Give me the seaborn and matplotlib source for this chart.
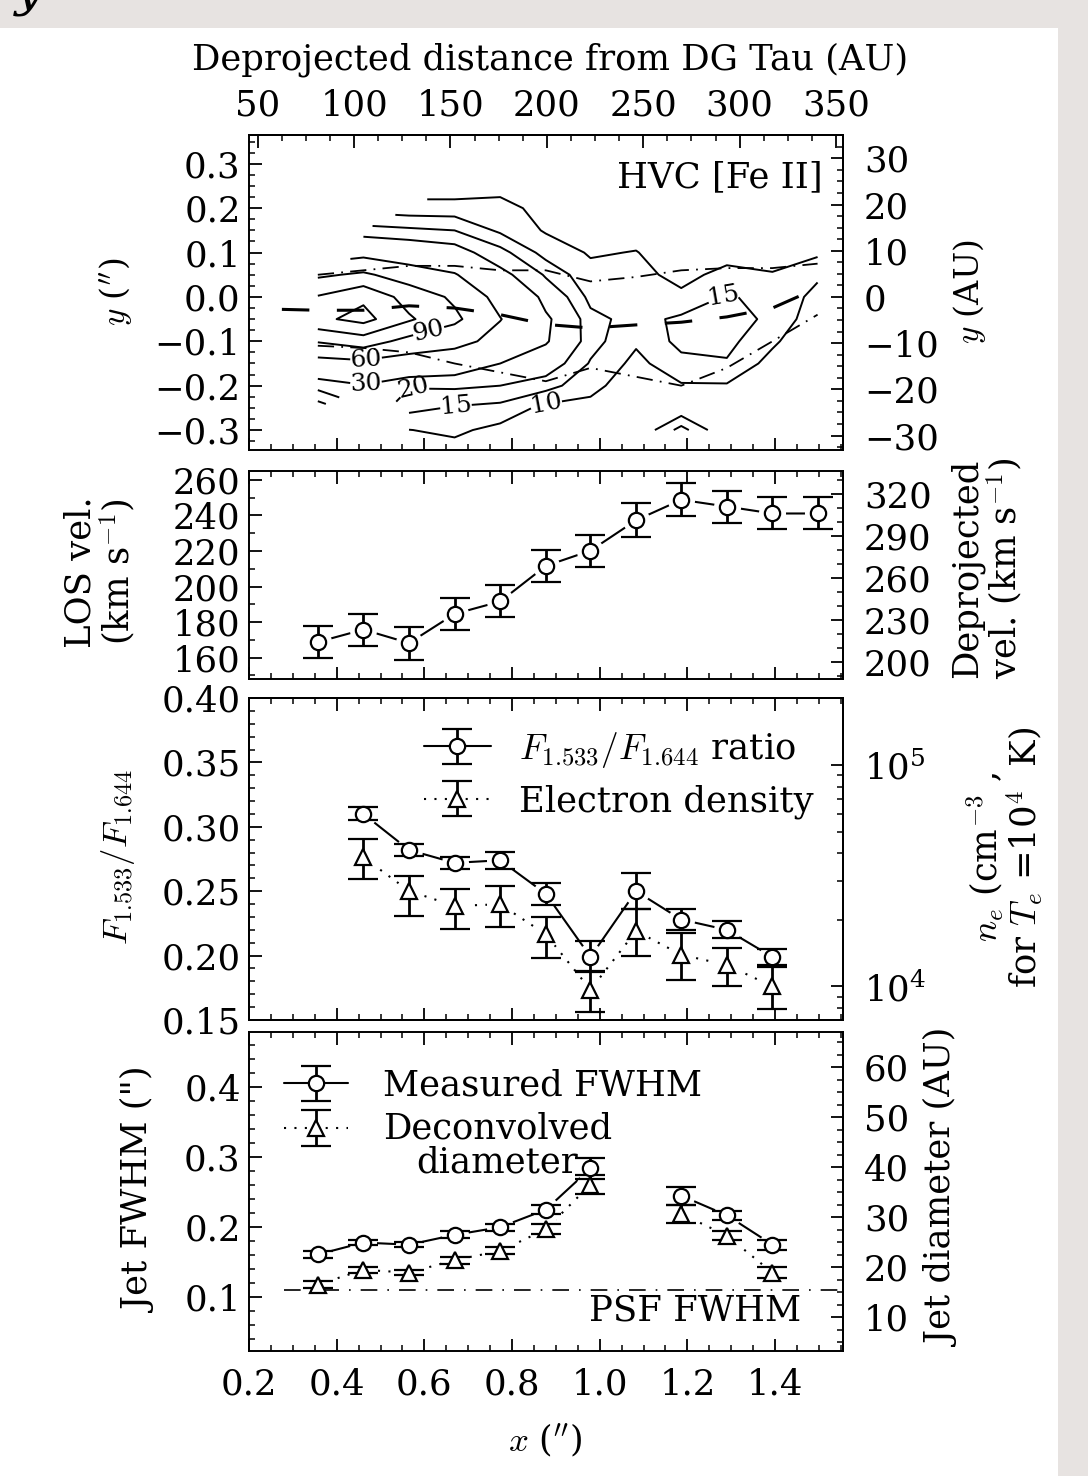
import numpy as np
import matplotlib.pyplot as plt
import matplotlib.ticker as mticker
from matplotlib.patches import Rectangle
from matplotlib.legend_handler import HandlerErrorbar
import seaborn as sns

sns.set_style("ticks")
plt.rcParams['font.family'] = ['DejaVu Serif']
plt.rcParams['mathtext.fontset'] = 'cm'
plt.rcParams['font.size'] = 25.5
plt.rcParams['axes.linewidth'] = 1.4
for key in ['text.color', 'axes.labelcolor', 'xtick.color', 'ytick.color', 'axes.edgecolor']:
    plt.rcParams[key] = 'black'

W, H = 1088, 1476
nan = np.nan

# ---------------- data ----------------
# slit positions along the jet (arcsec)
x_cols = [0.357, 0.461, 0.565, 0.669, 0.773, 0.877, 0.979, 1.083, 1.186, 1.290, 1.394, 1.497]
y_rows = [-0.35, -0.30, -0.25, -0.20, -0.15, -0.10, -0.05, 0.00, 0.05, 0.10, 0.15, 0.20, 0.25, 0.30, 0.35]

# HVC [Fe II] flux (rows = y_rows, cols = x_cols), masked outside the field
flux = [
    [nan, nan, nan, 8, 6, 5, 4.5, nan, nan, nan, 3, 1.5],
    [nan, nan, 9.9, 11, 8.5, 6, 6, 5, 17, 5, 3.5, 2],
    [12, nan, 16.5, 14.5, 13.5, 8.5, 8.5, 6, 6, 6, 4.5, 2.5],
    [22, 29, 20.5, 21, 20, 17, 11.5, 7, 9.5, 9.5, 6, 3],
    [48, 52, 45, 40, 30, 24, 14.5, 8.5, 13.5, 14.5, 8, 4],
    [92, 105, 80, 70, 50, 31, 17, 10.8, 16.5, 16.5, 11, 5],
    [143, 160, 124, 96, 61, 32, 16.5, 13.2, 16, 17, 14, 6.5],
    [122, 144, 108, 85, 50, 26, 13.5, 12.5, 11, 15.5, 13.5, 8.5],
    [85, 95, 75, 62, 34, 19, 11.5, 11.5, 8.5, 11.5, 10.3, 10.8],
    [nan, 50, 42, 36, 22, 13, 9.5, 10.2, 7, 8, 8, 9.8],
    [nan, 22, 21, 20, 14, 9.5, 8.5, 8, 5.5, 5.5, 5.5, 7.5],
    [nan, nan, 12, 12, 11.5, 8.5, 7, 6.5, 4, 4, 4, 5],
    [nan, nan, nan, 7, 8.5, 7, 5.5, 5, 3, 3, 3, 3],
    [nan, nan, nan, 5.5, 6, 5, 4, 4, 2.5, 2.5, 2.5, 2],
    [nan, nan, nan, 4, 4, 3.5, 3, 3, 2, 2, 2, 1.5],
]
contour_levels = [10, 15, 20, 30, 60, 90, 120, 150]
labelled_levels = [10, 15, 20, 30, 60, 90]
label_pos = [(0.61, -0.078), (0.467, -0.141), (0.467, -0.198), (0.575, -0.205),
             (0.672, -0.245), (0.878, -0.24), (1.28, 0.008)]

# jet centroid and FWHM edges
centroid_x = [0.275, 0.357, 0.461, 0.565, 0.669, 0.773, 0.877, 0.979, 1.083, 1.186, 1.290, 1.394, 1.497]
centroid_y = [-0.028, -0.03, -0.03, -0.02, -0.025, -0.04, -0.062, -0.07, -0.063, -0.057, -0.045, -0.025, 0.02]
edge_upper = [0.05, 0.06, 0.07, 0.07, 0.06, 0.06, 0.035, 0.045, 0.06, 0.065, 0.065, 0.075]
edge_lower = [-0.11, -0.115, -0.125, -0.15, -0.17, -0.19, -0.16, -0.18, -0.2, -0.16, -0.1, -0.04]

# line-of-sight velocity (km/s)
los_vel = [168.8, 175.8, 168.2, 184.6, 191.6, 211.6, 220.2, 237.3, 248.8, 245.0, 241.1, 241.1]
los_err = [9.1, 9.0, 9.3, 9.0, 9.0, 9.2, 9.0, 9.5, 9.2, 9.0, 9.0, 9.0]

# [Fe II] 1.533/1.644 ratio and electron density
ratio_x = [0.461, 0.565, 0.669, 0.773, 0.877, 0.979, 1.083, 1.186, 1.290, 1.394]
ratio = [0.310, 0.282, 0.272, 0.274, 0.248, 0.199, 0.250, 0.228, 0.220, 0.199]
ratio_err = [0.005, 0.005, 0.0045, 0.0065, 0.0085, 0.012, 0.014, 0.0085, 0.0065, 0.0065]
n_e = [3.83e4, 2.70e4, 2.31e4, 2.35e4, 1.72e4, 9.66e3, 1.78e4, 1.39e4, 1.25e4, 1.00e4]
n_e_lo = [3.05e4, 2.08e4, 1.82e4, 1.86e4, 1.35e4, 7.7e3, 1.37e4, 1.07e4, 1.00e4, 7.9e3]
n_e_hi = [4.64e4, 3.16e4, 2.75e4, 2.85e4, 2.05e4, 1.17e4, 2.23e4, 1.75e4, 1.49e4, 1.23e4]

# jet width (arcsec)
width_x = [0.357, 0.461, 0.565, 0.669, 0.773, 0.877, 0.979, 1.083, 1.186, 1.290, 1.394]
fwhm = [0.161, 0.178, 0.175, 0.189, 0.200, 0.225, 0.284, nan, 0.245, 0.217, 0.175]
fwhm_err = [0.005, 0.004, 0.004, 0.005, 0.005, 0.006, 0.015, nan, 0.013, 0.0066, 0.007]
diam = [0.118, 0.139, 0.135, 0.153, 0.166, 0.197, 0.261, nan, 0.219, 0.188, 0.135]
diam_err = [0.005, 0.004, 0.004, 0.005, 0.005, 0.007, 0.014, nan, 0.013, 0.006, 0.008]
psf_x = [0.28, 1.555]
psf_fwhm = 0.1105

# tick values of the converted axes
au_dist_ticks = [50, 100, 150, 200, 250, 300, 350]
au_y_ticks = [-30, -20, -10, 0, 10, 20, 30]
vel_deproj_ticks = [200, 230, 260, 290, 320]
au_width_ticks = [10, 20, 30, 40, 50, 60]

# unit conversions (d = 140 pc, i = 38 deg)
AU_DEPROJ = 140 / np.sin(np.radians(38))
AU_Y = 96.0
AU_W = 140.0
VEL_DEPROJ = 1 / np.cos(np.radians(38))

# ---------------- helpers ----------------
LEFT, RIGHT = 249, 843


def panel(top, bottom):
    return fig.add_axes([LEFT / W, 1 - bottom / H, (RIGHT - LEFT) / W, (bottom - top) / H])


def set_ticks(ax, **kw):
    ax.tick_params(which='major', direction='in', length=9, width=1.3, **kw)
    ax.tick_params(which='minor', direction='in', length=4.5, width=1.1, **kw)


def style_x(ax, top=True, labels=False):
    ax.set_xlim(0.2, 1.555)
    ax.xaxis.set_major_locator(mticker.MultipleLocator(0.2))
    ax.xaxis.set_minor_locator(mticker.MultipleLocator(0.05))
    set_ticks(ax, axis='x', top=top, bottom=True, labelbottom=labels, pad=12)


def style_y(ax, major, minor):
    ax.yaxis.set_major_locator(mticker.MultipleLocator(major))
    ax.yaxis.set_minor_locator(mticker.MultipleLocator(minor))
    set_ticks(ax, axis='y', left=True, right=False, pad=6)


def secondary_y(ax, factor, ticks, minor):
    s = ax.secondary_yaxis('right', functions=(lambda v: v * factor, lambda v: v / factor))
    s.yaxis.set_major_locator(mticker.FixedLocator(ticks))
    s.yaxis.set_minor_locator(mticker.MultipleLocator(minor))
    set_ticks(s, axis='y', pad=15)
    return s


def connect(ax, x, y, ls):
    # connecting line, broken where data are missing
    x = np.asarray(x, float)
    y = np.asarray(y, float)
    ok = np.isfinite(y)
    for r in np.split(np.arange(len(y)), np.where(~ok)[0]):
        r = r[ok[r]]
        if len(r) > 1:
            sns.lineplot(x=x[r], y=y[r], ax=ax, color='k', lw=1.5, linestyle=ls,
                         zorder=1, legend=False)


EB = dict(ms=11, mfc='white', mec='k', mew=1.6, ecolor='k', elinewidth=2.0,
          capsize=11, capthick=2.0)


def series(ax, x, y, yerr, marker, ls):
    connect(ax, x, y, ls)
    ax.scatter(x, y, s=380, color='white', zorder=2, linewidths=0)
    ax.errorbar(x, y, yerr=yerr, fmt=marker, zorder=3, **EB)


def proxy(ax, marker, ls):
    c = ax.errorbar([nan], [nan], yerr=[0.01], fmt=marker, color='k', **EB)
    c.lines[0].set_linestyle(ls)
    c.lines[0].set_linewidth(1.5)
    return c


class RaisedHandler(HandlerErrorbar):
    # put the handle next to the first line of a two-line label
    def adjust_drawing_area(self, legend, orig_handle, xdescent, ydescent, width, height, fontsize):
        xd, yd, w, h = super().adjust_drawing_area(legend, orig_handle, xdescent, ydescent,
                                                   width, height, fontsize)
        return xd, yd - 1.05 * fontsize, w, h


fig = plt.figure(figsize=(W / 100, H / 100), dpi=100)
fig.patch.set_facecolor('#e7e3e1')
fig.add_artist(Rectangle((0, 0), 1058 / W, (H - 28) / H, transform=fig.transFigure,
                         facecolor='white', edgecolor='none', zorder=-5))
fig.text(15 / W, 1 - 5 / H, 'y', fontsize=36, style='italic', ha='left', va='baseline')

# ---------------- panel 1: contours ----------------
ax1 = panel(135, 450)
cs = ax1.contour(x_cols, y_rows, np.ma.masked_invalid(flux), levels=contour_levels,
                 colors='k', linewidths=1.4, linestyles='solid')
ax1.clabel(cs, levels=labelled_levels, fmt='%d', fontsize=18, inline=True,
           inline_spacing=3, manual=label_pos)
sns.lineplot(x=centroid_x, y=centroid_y, ax=ax1, color='k', lw=2.2,
             linestyle=(0, (9, 9)), legend=False)
sns.lineplot(x=x_cols, y=edge_upper, ax=ax1, color='k', lw=1.3,
             linestyle=(0, (9, 4, 1, 4)), legend=False)
sns.lineplot(x=x_cols, y=edge_lower, ax=ax1, color='k', lw=1.3,
             linestyle=(0, (9, 4, 1, 4)), legend=False)
ax1.set_ylim(-0.345, 0.365)
style_x(ax1, top=False)
style_y(ax1, 0.1, 0.025)
ax1.text(0.965, 0.865, 'HVC [Fe II]', transform=ax1.transAxes, ha='right', va='center')
secondary_y(ax1, AU_Y, au_y_ticks, 2.5)
top = ax1.secondary_xaxis('top', functions=(lambda v: v * AU_DEPROJ, lambda v: v / AU_DEPROJ))
top.xaxis.set_major_locator(mticker.FixedLocator(au_dist_ticks))
top.xaxis.set_minor_locator(mticker.MultipleLocator(12.5))
set_ticks(top, axis='x', pad=9)
fig.text(550 / W, 1 - 60 / H, 'Deprojected distance from DG Tau (AU)', ha='center', va='center')
fig.text(116 / W, 1 - 292 / H, "$y$ ($''$)", rotation=90, ha='center', va='center', fontsize=24)
fig.text(970 / W, 1 - 292 / H, '$y$ (AU)', rotation=90, ha='center', va='center', fontsize=24)

# ---------------- panel 2: velocity ----------------
ax2 = panel(471, 679)
series(ax2, x_cols, los_vel, los_err, 'o', '-')
ax2.set_ylim(148, 265)
style_x(ax2)
style_y(ax2, 20, 10)
secondary_y(ax2, VEL_DEPROJ, vel_deproj_ticks, 10)
fig.text(100 / W, 1 - 572 / H, 'LOS vel.\n(km s$^{-1}$)', rotation=90, ha='center',
         va='center', multialignment='center', linespacing=1.0)
fig.text(987 / W, 1 - 568 / H, 'Deprojected\nvel. (km s$^{-1}$)', rotation=90, ha='center',
         va='center', multialignment='center', linespacing=1.0)

# ---------------- panel 3: line ratio / density ----------------
ax3 = panel(698, 1020)
ax3r = ax3.twinx()
series(ax3, ratio_x, ratio, ratio_err, 'o', '-')
ne_err = [np.subtract(n_e, n_e_lo), np.subtract(n_e_hi, n_e)]
series(ax3r, ratio_x, n_e, ne_err, '^', (0, (1, 4)))
ax3.set_ylim(0.15, 0.40)
ax3r.set_yscale('log')
ax3r.set_ylim(7.05e3, 2.01e5)
ax3r.yaxis.set_minor_formatter(mticker.NullFormatter())
style_x(ax3)
style_y(ax3, 0.05, 0.01)
ax3.yaxis.set_major_formatter(mticker.FormatStrFormatter('%.2f'))
set_ticks(ax3r, axis='y', pad=15)
ax3r.tick_params(axis='x', which='both', top=False, bottom=False)
h1 = proxy(ax3, 'o', '-')
h2 = proxy(ax3, '^', (0, (1, 4)))
ax3.legend([h1, h2], ['$F_{1.533}/F_{1.644}$ ratio', 'Electron density'],
           loc='upper right', bbox_to_anchor=(1.005, 1.0), frameon=False,
           handlelength=1.9, handletextpad=0.8, labelspacing=0.4)
fig.text(118 / W, 1 - 857 / H, '$F_{1.533}/F_{1.644}$', rotation=90, ha='center',
         va='center', fontsize=25)
fig.text(1005 / W, 1 - 857 / H, '$n_e$ (cm$^{-3}$ ,\nfor $T_e$ =10$^4$  K)', rotation=90,
         ha='center', va='center', multialignment='center', linespacing=0.95)

# ---------------- panel 4: jet width ----------------
ax4 = panel(1032, 1351)
series(ax4, width_x, fwhm, fwhm_err, 'o', '-')
series(ax4, width_x, diam, diam_err, '^', (0, (1, 4)))
sns.lineplot(x=psf_x, y=[psf_fwhm, psf_fwhm], ax=ax4, color='k', lw=1.2,
             linestyle=(0, (10, 6, 1, 6)), legend=False)
ax4.text(0.93, 0.128, 'PSF FWHM', transform=ax4.transAxes, ha='right', va='center')
ax4.set_ylim(0.023, 0.479)
style_x(ax4, labels=True)
style_y(ax4, 0.1, 0.02)
secondary_y(ax4, AU_W, au_width_ticks, 2.5)
h3 = proxy(ax4, 'o', '-')
h4 = proxy(ax4, '^', (0, (1, 4)))
leg = ax4.legend([h3, h4], ['Measured FWHM', 'Deconvolved\ndiameter'], loc='upper left',
                 bbox_to_anchor=(0.005, 0.985), frameon=False, handlelength=1.8,
                 handletextpad=1.0, labelspacing=0.25, handler_map={h4: RaisedHandler()})
leg.get_texts()[1].set_multialignment('center')
leg.get_texts()[1].set_linespacing(1.0)
fig.text(545 / W, 1 - 1440 / H, "$x$ ($''$)", ha='center', va='center', fontsize=25)
fig.text(140 / W, 1 - 1190 / H, 'Jet FWHM (")', rotation=90, ha='center', va='center')
fig.text(943 / W, 1 - 1188 / H, 'Jet diameter (AU)', rotation=90, ha='center', va='center')

for a in (ax1, ax2, ax3, ax3r, ax4):
    a.set_xlabel('')
    a.set_ylabel('')

fig.savefig('out.png', dpi=100)
